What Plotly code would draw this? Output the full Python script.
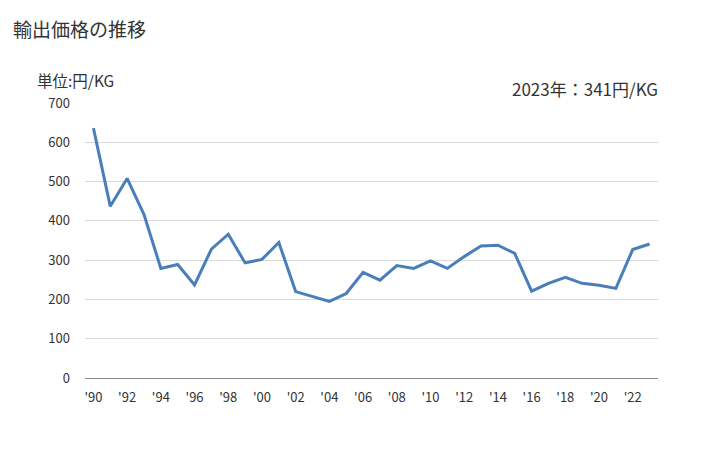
import plotly.graph_objects as go

years = list(range(1990, 2024))
values = [636, 437, 508, 416, 279, 289, 237, 328, 366, 293, 302, 345, 220,
          207, 195, 215, 269, 249, 286, 279, 298, 279, 309, 336, 338, 317,
          221, 241, 256, 241, 236, 228, 327, 341]
tick_years = list(range(1990, 2023, 2))
tick_labels = ["'" + str(y)[2:] for y in tick_years]
y_ticks = [0, 100, 200, 300, 400, 500, 600, 700]

font = "Noto Sans CJK JP, Noto Sans, sans-serif"

fig = go.Figure()
fig.add_trace(go.Scatter(
    x=years, y=values, mode="lines",
    line=dict(color="#4a7ebb", width=3),
    hoverinfo="x+y",
))

fig.update_layout(
    width=728, height=450,
    margin=dict(l=85, r=70, t=103, b=72),
    paper_bgcolor="white", plot_bgcolor="white",
    showlegend=False,
    font=dict(family=font, color="#333333", size=13),
    xaxis=dict(
        range=[1989.5, 2023.5],
        tickvals=tick_years, ticktext=tick_labels,
        showgrid=False, zeroline=False,
        showline=False, ticks="",
        ticklabelstandoff=10,
        tickfont=dict(size=13, color="#333333"),
    ),
    yaxis=dict(
        range=[0, 700], tickvals=y_ticks,
        showgrid=True, gridcolor="#d9d9d9", gridwidth=1,
        zeroline=True, zerolinecolor="#888888", zerolinewidth=1,
        showline=False, ticks="",
        ticklabelstandoff=14,
        tickfont=dict(size=13, color="#333333"),
    ),
)

pw = 728 - 85 - 70
ph = 450 - 103 - 72
def px_to_paper(px, py):
    return (px - 85) / pw, (450 - 72 - py) / ph

x0, y0 = px_to_paper(11, 28)
x1, y1 = px_to_paper(35, 80)
x2, y2 = px_to_paper(660, 88)
fig.update_layout(annotations=[
    dict(text="輸出価格の推移", x=x0, y=y0, xref="paper", yref="paper",
         xanchor="left", yanchor="middle", showarrow=False,
         font=dict(size=19, color="#333333")),
    dict(text="単位:円/KG", x=x1, y=y1, xref="paper", yref="paper",
         xanchor="left", yanchor="middle", showarrow=False,
         font=dict(size=15.5, color="#333333")),
    dict(text="2023年：341円/KG", x=x2, y=y2, xref="paper", yref="paper",
         xanchor="right", yanchor="middle", showarrow=False,
         font=dict(size=17, color="#333333")),
])

fig.write_html("out.html")
